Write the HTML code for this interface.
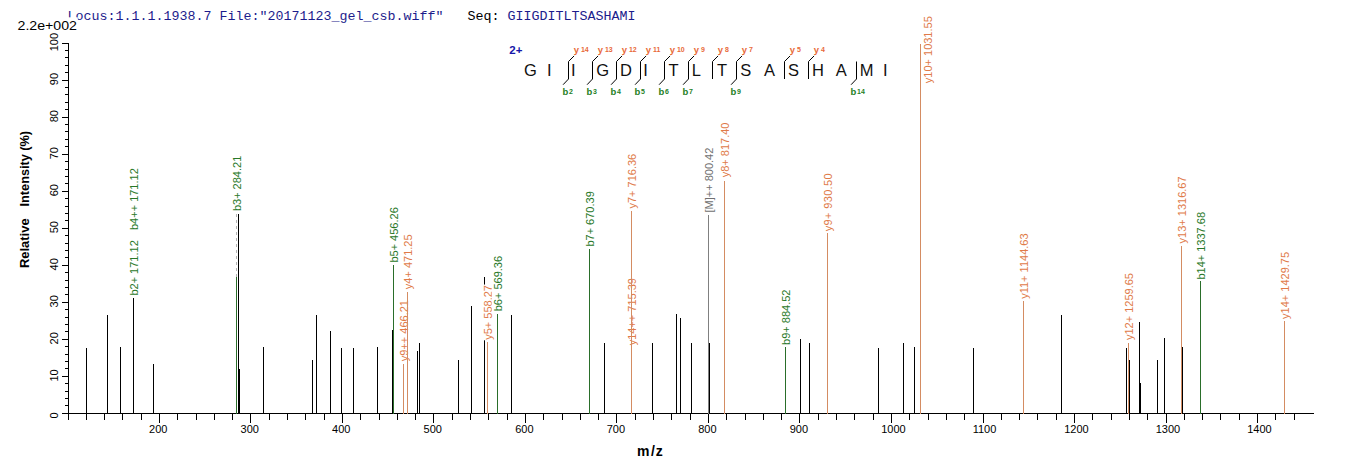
<!DOCTYPE html>
<html><head><meta charset="utf-8"><title>Spectrum</title>
<style>
html,body{margin:0;padding:0;background:#fff;}
body{width:1362px;height:473px;overflow:hidden;}
svg{display:block;}
text{font-family:'Liberation Sans', Arial, sans-serif;}
.mono{font-family:'Liberation Mono','Courier New',monospace;}
</style></head><body>
<svg width="1362" height="473" viewBox="0 0 1362 473">
<rect x="0" y="0" width="1362" height="473" fill="#fff"/>

<text class="mono" x="67.6" y="19.5" font-size="13.33" fill="#1c1c8c" xml:space="preserve" style="white-space:pre">Locus:1.1.1.1938.7 File:"20171123_gel_csb.wiff"   <tspan fill="#000">Seq:</tspan> GIIGDITLTSASHAMI</text>
<rect x="16" y="17.3" width="61.8" height="15" fill="#fff"/>
<text x="17.5" y="29.8" font-size="12.4" fill="#000" textLength="59.5" lengthAdjust="spacingAndGlyphs">2.2e+002</text>
<g fill="#000">
<rect x="68" y="43" width="1" height="377"/>
<rect x="62" y="413" width="1252" height="1"/>
<rect x="65" y="405" width="3" height="1"/>
<rect x="65" y="398" width="3" height="1"/>
<rect x="65" y="391" width="3" height="1"/>
<rect x="65" y="383" width="3" height="1"/>
<rect x="62" y="376" width="6" height="1"/>
<rect x="65" y="368" width="3" height="1"/>
<rect x="65" y="361" width="3" height="1"/>
<rect x="65" y="354" width="3" height="1"/>
<rect x="65" y="346" width="3" height="1"/>
<rect x="62" y="339" width="6" height="1"/>
<rect x="65" y="331" width="3" height="1"/>
<rect x="65" y="324" width="3" height="1"/>
<rect x="65" y="317" width="3" height="1"/>
<rect x="65" y="309" width="3" height="1"/>
<rect x="62" y="302" width="6" height="1"/>
<rect x="65" y="294" width="3" height="1"/>
<rect x="65" y="287" width="3" height="1"/>
<rect x="65" y="280" width="3" height="1"/>
<rect x="65" y="272" width="3" height="1"/>
<rect x="62" y="265" width="6" height="1"/>
<rect x="65" y="257" width="3" height="1"/>
<rect x="65" y="250" width="3" height="1"/>
<rect x="65" y="243" width="3" height="1"/>
<rect x="65" y="235" width="3" height="1"/>
<rect x="62" y="228" width="6" height="1"/>
<rect x="65" y="220" width="3" height="1"/>
<rect x="65" y="213" width="3" height="1"/>
<rect x="65" y="206" width="3" height="1"/>
<rect x="65" y="198" width="3" height="1"/>
<rect x="62" y="191" width="6" height="1"/>
<rect x="65" y="183" width="3" height="1"/>
<rect x="65" y="176" width="3" height="1"/>
<rect x="65" y="169" width="3" height="1"/>
<rect x="65" y="161" width="3" height="1"/>
<rect x="62" y="154" width="6" height="1"/>
<rect x="65" y="146" width="3" height="1"/>
<rect x="65" y="139" width="3" height="1"/>
<rect x="65" y="131" width="3" height="1"/>
<rect x="65" y="124" width="3" height="1"/>
<rect x="62" y="117" width="6" height="1"/>
<rect x="65" y="109" width="3" height="1"/>
<rect x="65" y="102" width="3" height="1"/>
<rect x="65" y="94" width="3" height="1"/>
<rect x="65" y="87" width="3" height="1"/>
<rect x="62" y="80" width="6" height="1"/>
<rect x="65" y="72" width="3" height="1"/>
<rect x="65" y="65" width="3" height="1"/>
<rect x="65" y="57" width="3" height="1"/>
<rect x="65" y="50" width="3" height="1"/>
<rect x="62" y="43" width="6" height="1"/>
<rect x="86" y="414" width="1" height="6"/>
<rect x="104" y="414" width="1" height="6"/>
<rect x="122" y="414" width="1" height="6"/>
<rect x="141" y="414" width="1" height="6"/>
<rect x="159" y="414" width="1" height="9"/>
<rect x="177" y="414" width="1" height="6"/>
<rect x="196" y="414" width="1" height="6"/>
<rect x="214" y="414" width="1" height="6"/>
<rect x="232" y="414" width="1" height="6"/>
<rect x="250" y="414" width="1" height="9"/>
<rect x="269" y="414" width="1" height="6"/>
<rect x="287" y="414" width="1" height="6"/>
<rect x="305" y="414" width="1" height="6"/>
<rect x="324" y="414" width="1" height="6"/>
<rect x="342" y="414" width="1" height="9"/>
<rect x="360" y="414" width="1" height="6"/>
<rect x="379" y="414" width="1" height="6"/>
<rect x="397" y="414" width="1" height="6"/>
<rect x="415" y="414" width="1" height="6"/>
<rect x="433" y="414" width="1" height="9"/>
<rect x="452" y="414" width="1" height="6"/>
<rect x="470" y="414" width="1" height="6"/>
<rect x="488" y="414" width="1" height="6"/>
<rect x="507" y="414" width="1" height="6"/>
<rect x="525" y="414" width="1" height="9"/>
<rect x="543" y="414" width="1" height="6"/>
<rect x="562" y="414" width="1" height="6"/>
<rect x="580" y="414" width="1" height="6"/>
<rect x="598" y="414" width="1" height="6"/>
<rect x="616" y="414" width="1" height="9"/>
<rect x="635" y="414" width="1" height="6"/>
<rect x="653" y="414" width="1" height="6"/>
<rect x="671" y="414" width="1" height="6"/>
<rect x="690" y="414" width="1" height="6"/>
<rect x="708" y="414" width="1" height="9"/>
<rect x="726" y="414" width="1" height="6"/>
<rect x="745" y="414" width="1" height="6"/>
<rect x="763" y="414" width="1" height="6"/>
<rect x="781" y="414" width="1" height="6"/>
<rect x="799" y="414" width="1" height="9"/>
<rect x="818" y="414" width="1" height="6"/>
<rect x="836" y="414" width="1" height="6"/>
<rect x="854" y="414" width="1" height="6"/>
<rect x="873" y="414" width="1" height="6"/>
<rect x="891" y="414" width="1" height="9"/>
<rect x="909" y="414" width="1" height="6"/>
<rect x="928" y="414" width="1" height="6"/>
<rect x="946" y="414" width="1" height="6"/>
<rect x="964" y="414" width="1" height="6"/>
<rect x="983" y="414" width="1" height="9"/>
<rect x="1001" y="414" width="1" height="6"/>
<rect x="1019" y="414" width="1" height="6"/>
<rect x="1037" y="414" width="1" height="6"/>
<rect x="1056" y="414" width="1" height="6"/>
<rect x="1074" y="414" width="1" height="9"/>
<rect x="1092" y="414" width="1" height="6"/>
<rect x="1111" y="414" width="1" height="6"/>
<rect x="1129" y="414" width="1" height="6"/>
<rect x="1147" y="414" width="1" height="6"/>
<rect x="1166" y="414" width="1" height="9"/>
<rect x="1184" y="414" width="1" height="6"/>
<rect x="1202" y="414" width="1" height="6"/>
<rect x="1220" y="414" width="1" height="6"/>
<rect x="1239" y="414" width="1" height="6"/>
<rect x="1257" y="414" width="1" height="9"/>
<rect x="1275" y="414" width="1" height="6"/>
<rect x="1294" y="414" width="1" height="6"/>
</g>
<text x="149.1" y="432.7" font-size="11" fill="#000">200</text>
<text x="240.6" y="432.7" font-size="11" fill="#000">300</text>
<text x="332.1" y="432.7" font-size="11" fill="#000">400</text>
<text x="423.6" y="432.7" font-size="11" fill="#000">500</text>
<text x="515.2" y="432.7" font-size="11" fill="#000">600</text>
<text x="606.7" y="432.7" font-size="11" fill="#000">700</text>
<text x="698.2" y="432.7" font-size="11" fill="#000">800</text>
<text x="789.7" y="432.7" font-size="11" fill="#000">900</text>
<text x="881.2" y="432.7" font-size="11" fill="#000">1000</text>
<text x="972.7" y="432.7" font-size="11" fill="#000">1100</text>
<text x="1064.2" y="432.7" font-size="11" fill="#000">1200</text>
<text x="1155.7" y="432.7" font-size="11" fill="#000">1300</text>
<text x="1247.2" y="432.7" font-size="11" fill="#000">1400</text>
<text transform="translate(57.8,415.4) rotate(-90)" text-anchor="middle" font-size="11" fill="#000">0</text>
<text transform="translate(57.8,375.4) rotate(-90)" text-anchor="middle" font-size="11" fill="#000">10</text>
<text transform="translate(57.8,338.3) rotate(-90)" text-anchor="middle" font-size="11" fill="#000">20</text>
<text transform="translate(57.8,301.3) rotate(-90)" text-anchor="middle" font-size="11" fill="#000">30</text>
<text transform="translate(57.8,264.3) rotate(-90)" text-anchor="middle" font-size="11" fill="#000">40</text>
<text transform="translate(57.8,227.2) rotate(-90)" text-anchor="middle" font-size="11" fill="#000">50</text>
<text transform="translate(57.8,190.2) rotate(-90)" text-anchor="middle" font-size="11" fill="#000">60</text>
<text transform="translate(57.8,153.2) rotate(-90)" text-anchor="middle" font-size="11" fill="#000">70</text>
<text transform="translate(57.8,116.2) rotate(-90)" text-anchor="middle" font-size="11" fill="#000">80</text>
<text transform="translate(57.8,79.1) rotate(-90)" text-anchor="middle" font-size="11" fill="#000">90</text>
<text transform="translate(57.8,42.1) rotate(-90)" text-anchor="middle" font-size="11" fill="#000">100</text>
<text transform="translate(28.6,268.0) rotate(-90)" font-size="12.5" font-weight="bold" fill="#000" textLength="49.6" lengthAdjust="spacingAndGlyphs">Relative</text>
<text transform="translate(28.6,206.4) rotate(-90)" font-size="12.5" font-weight="bold" fill="#000" textLength="75.4" lengthAdjust="spacingAndGlyphs">Intensity (%)</text>
<text x="637" y="455.9" font-size="14" font-weight="bold" fill="#000">m<tspan dx="1.5">/</tspan><tspan dx="0.8">z</tspan></text>
<g>
<rect x="86" y="348" width="1" height="66" fill="#000000"/>
<rect x="107" y="315" width="1" height="99" fill="#000000"/>
<rect x="120" y="347" width="1" height="67" fill="#000000"/>
<rect x="133" y="298" width="1" height="116" fill="#000000"/>
<rect x="153" y="364" width="1" height="50" fill="#000000"/>
<rect x="238" y="214" width="1" height="200" fill="#000000"/>
<rect x="239" y="369" width="1" height="45" fill="#000000"/>
<rect x="263" y="347" width="1" height="67" fill="#000000"/>
<rect x="312" y="360" width="1" height="54" fill="#000000"/>
<rect x="316" y="315" width="1" height="99" fill="#000000"/>
<rect x="330" y="331" width="1" height="83" fill="#000000"/>
<rect x="341" y="348" width="1" height="66" fill="#000000"/>
<rect x="353" y="348" width="1" height="66" fill="#000000"/>
<rect x="377" y="347" width="1" height="67" fill="#000000"/>
<rect x="392" y="330" width="1" height="84" fill="#000000"/>
<rect x="417" y="351" width="1" height="63" fill="#000000"/>
<rect x="419" y="343" width="1" height="71" fill="#000000"/>
<rect x="458" y="360" width="1" height="54" fill="#000000"/>
<rect x="471" y="306" width="1" height="108" fill="#000000"/>
<rect x="484" y="277" width="1" height="137" fill="#000000"/>
<rect x="511" y="315" width="1" height="99" fill="#000000"/>
<rect x="604" y="343" width="1" height="71" fill="#000000"/>
<rect x="652" y="343" width="1" height="71" fill="#000000"/>
<rect x="676" y="314" width="1" height="100" fill="#000000"/>
<rect x="680" y="318" width="1" height="96" fill="#000000"/>
<rect x="691" y="343" width="1" height="71" fill="#000000"/>
<rect x="709" y="343" width="1" height="71" fill="#000000"/>
<rect x="800" y="339" width="1" height="75" fill="#000000"/>
<rect x="809" y="343" width="1" height="71" fill="#000000"/>
<rect x="878" y="348" width="1" height="66" fill="#000000"/>
<rect x="903" y="343" width="1" height="71" fill="#000000"/>
<rect x="914" y="347" width="1" height="67" fill="#000000"/>
<rect x="973" y="348" width="1" height="66" fill="#000000"/>
<rect x="1061" y="315" width="1" height="99" fill="#000000"/>
<rect x="1126" y="348" width="1" height="66" fill="#000000"/>
<rect x="1129" y="360" width="1" height="54" fill="#000000"/>
<rect x="1139" y="322" width="1" height="92" fill="#000000"/>
<rect x="1140" y="383" width="1" height="31" fill="#000000"/>
<rect x="1157" y="360" width="1" height="54" fill="#000000"/>
<rect x="1164" y="338" width="1" height="76" fill="#000000"/>
<rect x="1182" y="347" width="1" height="67" fill="#000000"/>
</g>
<g transform="translate(137.8,295.6) rotate(-90)"><rect x="-0.5" y="-9.96" width="56.36" height="12.29" fill="#fff"/><text x="0" y="0" font-size="11" fill="#287828">b2+ 171.12</text></g>
<g transform="translate(138.4,230.0) rotate(-90)"><rect x="-0.5" y="-9.96" width="62.78" height="12.29" fill="#fff"/><text x="0" y="0" font-size="11" fill="#287828">b4++ 171.12</text></g>
<g transform="translate(240.8,211.1) rotate(-90)"><rect x="-0.5" y="-9.96" width="56.36" height="12.29" fill="#fff"/><text x="0" y="0" font-size="11" fill="#287828">b3+ 284.21</text></g>
<g transform="translate(397.8,262.6) rotate(-90)"><rect x="-0.5" y="-9.96" width="56.36" height="12.29" fill="#fff"/><text x="0" y="0" font-size="11" fill="#287828">b5+ 456.26</text></g>
<g transform="translate(407.8,361.2) rotate(-90)"><rect x="-0.5" y="-9.96" width="62.17" height="12.29" fill="#fff"/><text x="0" y="0" font-size="11" fill="#e07a48">y9++ 466.21</text></g>
<g transform="translate(411.8,289.2) rotate(-90)"><rect x="-0.5" y="-9.96" width="55.74" height="12.29" fill="#fff"/><text x="0" y="0" font-size="11" fill="#e07a48">y4+ 471.25</text></g>
<g transform="translate(491.8,339.8) rotate(-90)"><rect x="-0.5" y="-9.96" width="55.74" height="12.29" fill="#fff"/><text x="0" y="0" font-size="11" fill="#e07a48">y5+ 558.27</text></g>
<g transform="translate(501.8,311.3) rotate(-90)"><rect x="-0.5" y="-9.96" width="56.36" height="12.29" fill="#fff"/><text x="0" y="0" font-size="11" fill="#287828">b6+ 569.36</text></g>
<g transform="translate(593.8,246.6) rotate(-90)"><rect x="-0.5" y="-9.96" width="56.36" height="12.29" fill="#fff"/><text x="0" y="0" font-size="11" fill="#287828">b7+ 670.39</text></g>
<g transform="translate(635.8,208.5) rotate(-90)"><rect x="-0.5" y="-9.96" width="55.74" height="12.29" fill="#fff"/><text x="0" y="0" font-size="11" fill="#e07a48">y7+ 716.36</text></g>
<g transform="translate(635.8,345.3) rotate(-90)"><rect x="-0.5" y="-9.96" width="68.28" height="12.29" fill="#fff"/><text x="0" y="0" font-size="11" fill="#e07a48">y14++ 715.39</text></g>
<g transform="translate(713.3,212.5) rotate(-90)"><rect x="-0.5" y="-9.96" width="65.82" height="12.29" fill="#fff"/><text x="0" y="0" font-size="11" fill="#707070">[M]++ 800.42</text></g>
<g transform="translate(728.8,177.3) rotate(-90)"><rect x="-0.5" y="-9.96" width="55.74" height="12.29" fill="#fff"/><text x="0" y="0" font-size="11" fill="#e07a48">y8+ 817.40</text></g>
<g transform="translate(789.8,344.9) rotate(-90)"><rect x="-0.5" y="-9.96" width="56.36" height="12.29" fill="#fff"/><text x="0" y="0" font-size="11" fill="#287828">b9+ 884.52</text></g>
<g transform="translate(831.8,231.3) rotate(-90)"><rect x="-0.5" y="-9.96" width="58.94" height="12.29" fill="#fff"/><text x="0" y="0" font-size="11" fill="#e07a48" textLength="57.94">y9+ 930.50</text></g>
<g transform="translate(931.8,83.2) rotate(-90)"><rect x="-0.5" y="-9.96" width="67.98" height="12.29" fill="#fff"/><text x="0" y="0" font-size="11" fill="#e07a48">y10+ 1031.55</text></g>
<g transform="translate(1027.8,298.8) rotate(-90)"><rect x="-0.5" y="-9.96" width="67.98" height="12.29" fill="#fff"/><text x="0" y="0" font-size="11" fill="#e07a48">y11+ 1144.63</text></g>
<g transform="translate(1132.8,340.0) rotate(-90)"><rect x="-0.5" y="-9.96" width="67.98" height="12.29" fill="#fff"/><text x="0" y="0" font-size="11" fill="#e07a48">y12+ 1259.65</text></g>
<g transform="translate(1185.8,243.4) rotate(-90)"><rect x="-0.5" y="-9.96" width="67.98" height="12.29" fill="#fff"/><text x="0" y="0" font-size="11" fill="#e07a48">y13+ 1316.67</text></g>
<g transform="translate(1204.8,279.6) rotate(-90)"><rect x="-0.5" y="-9.96" width="68.60" height="12.29" fill="#fff"/><text x="0" y="0" font-size="11" fill="#287828">b14+ 1337.68</text></g>
<g transform="translate(1288.8,318.9) rotate(-90)"><rect x="-0.5" y="-9.96" width="67.98" height="12.29" fill="#fff"/><text x="0" y="0" font-size="11" fill="#e07a48">y14+ 1429.75</text></g>
<line x1="236.5" y1="214" x2="236.5" y2="277" stroke="#b4b4b4" stroke-width="1" stroke-dasharray="3,3"/>
<rect x="236" y="277" width="1" height="137" fill="#2a6e2a"/>
<rect x="393" y="265" width="1" height="149" fill="#2a6e2a"/>
<rect x="497" y="314" width="1" height="100" fill="#2a6e2a"/>
<rect x="589" y="249" width="1" height="165" fill="#2a6e2a"/>
<rect x="785" y="347" width="1" height="67" fill="#2a6e2a"/>
<rect x="1200" y="281" width="1" height="133" fill="#2a6e2a"/>
<rect x="403" y="364" width="1" height="50" fill="#d48c62"/>
<rect x="407" y="292" width="1" height="122" fill="#d48c62"/>
<rect x="487" y="342" width="1" height="72" fill="#d48c62"/>
<rect x="631" y="211" width="1" height="203" fill="#d48c62"/>
<rect x="724" y="181" width="1" height="233" fill="#d48c62"/>
<rect x="827" y="233" width="1" height="181" fill="#d48c62"/>
<rect x="920" y="44" width="1" height="370" fill="#d48c62"/>
<rect x="1023" y="301" width="1" height="113" fill="#d48c62"/>
<rect x="1128" y="343" width="1" height="71" fill="#d48c62"/>
<rect x="1181" y="246" width="1" height="168" fill="#d48c62"/>
<rect x="1284" y="321" width="1" height="93" fill="#d48c62"/>
<rect x="708" y="215" width="1" height="199" fill="#808080"/>
<text x="509.3" y="54.3" font-size="11.5" font-weight="bold" fill="#1616a8">2+</text>
<text x="524.0" y="75.8" font-size="16.5" fill="#111">G</text>
<text x="547.0" y="75.8" font-size="16.5" fill="#111">I</text>
<text x="570.9" y="75.8" font-size="16.5" fill="#111">I</text>
<text x="596.2" y="75.8" font-size="16.5" fill="#111">G</text>
<text x="620.0" y="75.8" font-size="16.5" fill="#111">D</text>
<text x="643.3" y="75.8" font-size="16.5" fill="#111">I</text>
<text x="668.4" y="75.8" font-size="16.5" fill="#111">T</text>
<text x="691.7" y="75.8" font-size="16.5" fill="#111">L</text>
<text x="717.1" y="75.8" font-size="16.5" fill="#111">T</text>
<text x="740.2" y="75.8" font-size="16.5" fill="#111">S</text>
<text x="764.0" y="75.8" font-size="16.5" fill="#111">A</text>
<text x="788.0" y="75.8" font-size="16.5" fill="#111">S</text>
<text x="811.9" y="75.8" font-size="16.5" fill="#111">H</text>
<text x="835.7" y="75.8" font-size="16.5" fill="#111">A</text>
<text x="859.7" y="75.8" font-size="16.5" fill="#111">M</text>
<text x="883.1" y="75.8" font-size="16.5" fill="#111">I</text>
<path d="M574.1,55.9 L568.5,61.5 L568.5,79 L563.1,84.7" fill="none" stroke="#000" stroke-width="1"/>
<text x="573.8" y="52.6" font-size="9.5" font-weight="bold" fill="#e86a3a">y<tspan font-size="7" dx="1.8" dy="-0.9">14</tspan></text>
<text x="562.5" y="94.8" font-size="9.5" font-weight="bold" fill="#1f7f1f">b<tspan font-size="7" dx="0.7" dy="-1.1">2</tspan></text>
<path d="M598.1,55.9 L592.5,61.5 L592.5,79 L587.1,84.7" fill="none" stroke="#000" stroke-width="1"/>
<text x="597.8" y="52.6" font-size="9.5" font-weight="bold" fill="#e86a3a">y<tspan font-size="7" dx="1.8" dy="-0.9">13</tspan></text>
<text x="586.5" y="94.8" font-size="9.5" font-weight="bold" fill="#1f7f1f">b<tspan font-size="7" dx="0.7" dy="-1.1">3</tspan></text>
<path d="M622.1,55.9 L616.5,61.5 L616.5,79 L611.1,84.7" fill="none" stroke="#000" stroke-width="1"/>
<text x="621.8" y="52.6" font-size="9.5" font-weight="bold" fill="#e86a3a">y<tspan font-size="7" dx="1.8" dy="-0.9">12</tspan></text>
<text x="610.5" y="94.8" font-size="9.5" font-weight="bold" fill="#1f7f1f">b<tspan font-size="7" dx="0.7" dy="-1.1">4</tspan></text>
<path d="M646.1,55.9 L640.5,61.5 L640.5,79 L635.1,84.7" fill="none" stroke="#000" stroke-width="1"/>
<text x="645.8" y="52.6" font-size="9.5" font-weight="bold" fill="#e86a3a">y<tspan font-size="7" dx="1.8" dy="-0.9">11</tspan></text>
<text x="634.5" y="94.8" font-size="9.5" font-weight="bold" fill="#1f7f1f">b<tspan font-size="7" dx="0.7" dy="-1.1">5</tspan></text>
<path d="M670.1,55.9 L664.5,61.5 L664.5,79 L659.1,84.7" fill="none" stroke="#000" stroke-width="1"/>
<text x="669.8" y="52.6" font-size="9.5" font-weight="bold" fill="#e86a3a">y<tspan font-size="7" dx="1.8" dy="-0.9">10</tspan></text>
<text x="658.5" y="94.8" font-size="9.5" font-weight="bold" fill="#1f7f1f">b<tspan font-size="7" dx="0.7" dy="-1.1">6</tspan></text>
<path d="M694.1,55.9 L688.5,61.5 L688.5,79 L683.1,84.7" fill="none" stroke="#000" stroke-width="1"/>
<text x="693.8" y="52.6" font-size="9.5" font-weight="bold" fill="#e86a3a">y<tspan font-size="7" dx="1.8" dy="-0.9">9</tspan></text>
<text x="682.5" y="94.8" font-size="9.5" font-weight="bold" fill="#1f7f1f">b<tspan font-size="7" dx="0.7" dy="-1.1">7</tspan></text>
<path d="M718.1,55.9 L712.5,61.5 L712.5,79" fill="none" stroke="#000" stroke-width="1"/>
<text x="717.8" y="52.6" font-size="9.5" font-weight="bold" fill="#e86a3a">y<tspan font-size="7" dx="1.8" dy="-0.9">8</tspan></text>
<path d="M742.1,55.9 L736.5,61.5 L736.5,79 L731.1,84.7" fill="none" stroke="#000" stroke-width="1"/>
<text x="741.8" y="52.6" font-size="9.5" font-weight="bold" fill="#e86a3a">y<tspan font-size="7" dx="1.8" dy="-0.9">7</tspan></text>
<text x="730.5" y="94.8" font-size="9.5" font-weight="bold" fill="#1f7f1f">b<tspan font-size="7" dx="0.7" dy="-1.1">9</tspan></text>
<path d="M790.1,55.9 L784.5,61.5 L784.5,79" fill="none" stroke="#000" stroke-width="1"/>
<text x="789.8" y="52.6" font-size="9.5" font-weight="bold" fill="#e86a3a">y<tspan font-size="7" dx="1.8" dy="-0.9">5</tspan></text>
<path d="M814.1,55.9 L808.5,61.5 L808.5,79" fill="none" stroke="#000" stroke-width="1"/>
<text x="813.8" y="52.6" font-size="9.5" font-weight="bold" fill="#e86a3a">y<tspan font-size="7" dx="1.8" dy="-0.9">4</tspan></text>
<path d="M856.5,61.5 L856.5,79 L851.1,84.7" fill="none" stroke="#000" stroke-width="1"/>
<text x="850.5" y="94.8" font-size="9.5" font-weight="bold" fill="#1f7f1f">b<tspan font-size="7" dx="0.7" dy="-1.1">14</tspan></text>
</svg></body></html>
